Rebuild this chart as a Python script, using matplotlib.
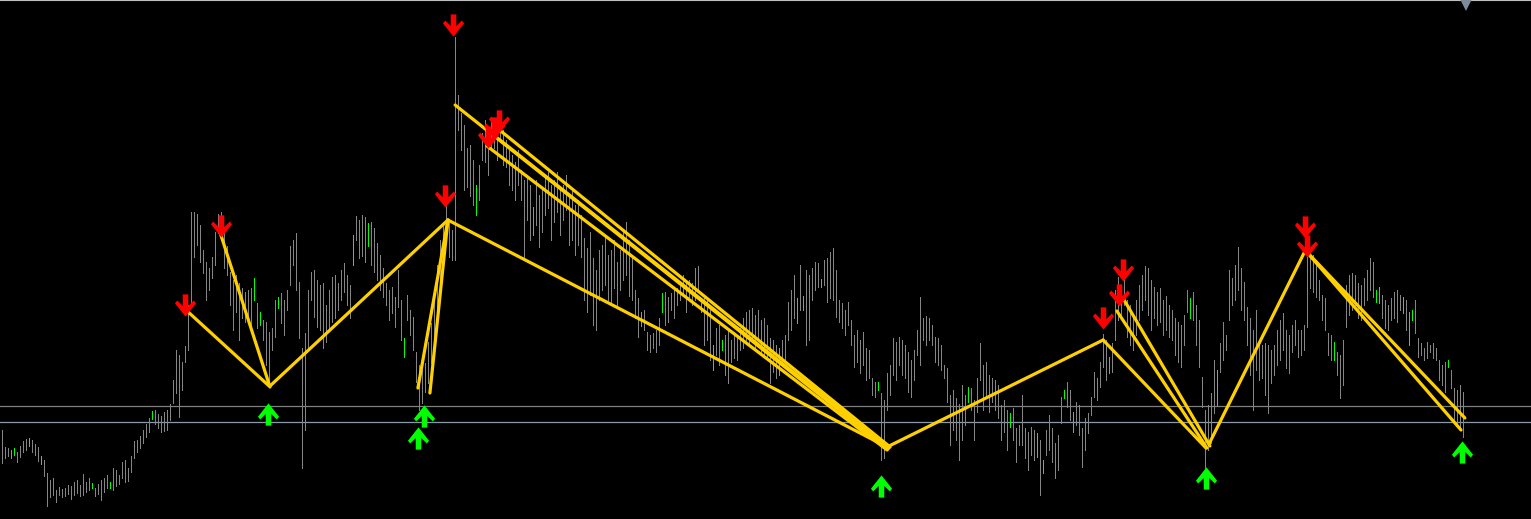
import numpy as np
import matplotlib
matplotlib.use("Agg")
import matplotlib.pyplot as plt
from matplotlib.path import Path

# bar highs / lows (price in points), one entry per bar
highs = [
    90, 73, 72, 70, 72, 68, 74, 79, 81, 82,
    80, 76, 73, 64, 60, 47, 40, 42, 30, 33,
    31, 32, 35, 34, 38, 40, 35, 46, 38, 42,
    37, 32, 36, 40, 42, 45, 38, 52, 50, 45,
    58, 60, 52, 64, 79, 80, 84, 90, 96, 102,
    109, 110, 106, 104, 108, 110, 116, 140, 170, 165,
    158, 174, 215, 308, 308, 306, 295, 270, 258, 252,
    263, 288, 306, 308, 292, 274, 248, 240, 245, 237,
    232, 228, 230, 232, 242, 217, 208, 200, 198, 188,
    192, 220, 223, 227, 220, 230, 274, 280, 287, 238,
    172, 187, 230, 248, 250, 240, 235, 237, 215, 230,
    243, 245, 237, 250, 257, 245, 235, 285, 304, 300,
    305, 303, 297, 298, 292, 277, 265, 252, 237, 230,
    233, 223, 250, 220, 182, 225, 210, 203, 168, 155,
    150, 157, 178, 197, 220, 255, 280, 298, 314, 300,
    290, 483, 425, 407, 395, 372, 375, 360, 335, 355,
    387, 400, 392, 399, 402, 398, 395, 390, 380, 370,
    365, 358, 370, 350, 340, 345, 335, 313, 340, 325,
    332, 342, 348, 335, 340, 348, 330, 335, 345, 325,
    330, 315, 320, 305, 282, 272, 288, 262, 250, 270,
    275, 282, 265, 270, 280, 258, 270, 288, 298, 280,
    265, 230, 222, 208, 210, 188, 185, 187, 190, 202,
    227, 228, 223, 227, 230, 232, 235, 245, 238, 240,
    237, 252, 254, 217, 222, 220, 210, 175, 192, 195,
    180, 185, 192, 180, 188, 185, 192, 202, 208, 210,
    212, 205, 210, 200, 202, 195, 182, 180, 175, 172,
    180, 185, 218, 230, 245, 222, 255, 224, 250, 245,
    252, 258, 257, 241, 260, 262, 268, 272, 250, 220,
    217, 210, 218, 200, 185, 190, 180, 188, 172, 170,
    142, 138, 138, 127, 120, 147, 155, 182, 178, 183,
    180, 175, 168, 160, 170, 190, 223, 202, 204, 202,
    195, 183, 182, 175, 155, 152, 125, 130, 122, 116,
    135, 125, 133, 132, 120, 142, 177, 155, 158, 145,
    142, 140, 135, 115, 120, 110, 107, 112, 92, 95,
    125, 92, 88, 93, 90, 87, 80, 60, 90, 105,
    92, 77, 85, 123, 130, 138, 130, 108, 118, 115,
    92, 102, 107, 123, 148, 142, 158, 186, 180, 163,
    177, 230, 243, 235, 244, 220, 215, 205, 220, 235,
    245, 254, 252, 240, 233, 228, 232, 220, 224, 215,
    210, 202, 198, 195, 205, 230, 222, 228, 215, 200,
    143, 110, 115, 127, 160, 150, 177, 198, 185, 250,
    242, 255, 273, 252, 238, 213, 202, 190, 210, 180,
    175, 177, 175, 170, 175, 190, 200, 207, 190, 185,
    195, 200, 190, 190, 195, 283, 268, 265, 258, 240,
    225, 222, 187, 185, 178, 168, 165, 180, 235, 245,
    247, 245, 237, 235, 242, 250, 262, 258, 230, 233,
    225, 220, 215, 222, 228, 230, 225, 223, 220, 208,
    210, 220, 182, 177, 172, 178, 175, 177, 172, 160,
    155, 158, 160, 150, 132, 130, 135, 128,
]
lows = [
    57, 62, 64, 62, 65, 58, 63, 68, 70, 74,
    68, 65, 59, 56, 44, 14, 23, 25, 18, 25,
    23, 24, 26, 21, 25, 27, 24, 25, 28, 30,
    32, 24, 26, 20, 28, 32, 32, 30, 34, 36,
    42, 38, 39, 48, 62, 68, 72, 77, 83, 88,
    101, 96, 92, 88, 89, 90, 100, 117, 127, 103,
    130, 158, 170, 215, 263, 275, 258, 247, 220, 230,
    242, 255, 287, 280, 252, 245, 215, 190, 208, 180,
    202, 198, 205, 195, 220, 192, 195, 180, 155, 136,
    170, 183, 212, 197, 185, 210, 235, 255, 230, 182,
    52, 90, 173, 220, 203, 193, 190, 172, 178, 190,
    198, 202, 210, 220, 228, 215, 202, 255, 280, 262,
    264, 258, 274, 255, 248, 240, 230, 223, 215, 200,
    207, 193, 213, 180, 163, 200, 185, 170, 138, 110,
    117, 128, 137, 157, 168, 200, 230, 252, 280, 263,
    260, 260, 390, 370, 330, 333, 324, 315, 305, 320,
    360, 358, 345, 370, 372, 360, 380, 355, 353, 335,
    330, 320, 335, 320, 263, 300, 280, 285, 295, 273,
    288, 305, 312, 280, 298, 308, 285, 300, 310, 275,
    280, 265, 275, 263, 220, 208, 225, 195, 190, 220,
    230, 235, 220, 215, 232, 213, 230, 240, 245, 224,
    220, 202, 183, 194, 190, 170, 168, 172, 168, 175,
    208, 195, 198, 210, 202, 215, 220, 224, 208, 220,
    215, 220, 228, 208, 175, 180, 160, 150, 165, 155,
    170, 145, 137, 158, 162, 160, 170, 172, 180, 175,
    182, 170, 180, 168, 165, 162, 137, 148, 142, 145,
    155, 160, 180, 190, 202, 197, 210, 210, 175, 180,
    220, 230, 233, 233, 235, 218, 222, 220, 203, 198,
    192, 185, 195, 175, 153, 158, 147, 155, 140, 142,
    125, 123, 130, 60, 62, 110, 125, 145, 140, 155,
    145, 142, 128, 123, 140, 165, 155, 180, 175, 180,
    175, 158, 155, 150, 142, 118, 75, 90, 80, 60,
    80, 95, 118, 110, 80, 108, 140, 110, 122, 108,
    118, 110, 102, 80, 88, 70, 93, 80, 58, 75,
    75, 62, 50, 65, 60, 63, 25, 47, 65, 70,
    58, 42, 50, 97, 122, 113, 100, 88, 95, 85,
    53, 70, 87, 105, 123, 120, 133, 153, 140, 147,
    148, 180, 200, 202, 215, 183, 175, 170, 185, 200,
    210, 220, 205, 190, 202, 195, 198, 185, 190, 183,
    180, 165, 158, 153, 175, 208, 202, 200, 175, 153,
    113, 52, 70, 77, 107, 115, 148, 160, 170, 200,
    215, 220, 230, 210, 200, 175, 145, 110, 150, 140,
    142, 125, 107, 137, 145, 155, 160, 170, 152, 147,
    168, 175, 163, 165, 170, 193, 232, 228, 223, 220,
    200, 190, 165, 160, 160, 145, 122, 135, 193, 205,
    210, 215, 202, 200, 215, 220, 230, 223, 218, 217,
    202, 192, 190, 200, 202, 198, 210, 207, 190, 175,
    200, 187, 163, 165, 160, 162, 168, 162, 160, 140,
    135, 128, 153, 132, 100, 95, 90, 83,
]
# bars drawn in green
green_bars = [3, 4, 9, 13, 30, 36, 50, 84, 86, 92, 117, 122, 134, 158, 177,
              213, 220, 233, 237, 240, 259, 265, 267, 273, 292, 322, 336, 345,
              347, 354, 357, 369, 396, 405, 444, 458, 459, 467, 469, 470, 482]

# zigzag segments: start bar, start price, end bar, end price
zz_x0 = [61.5, 72.8, 89.5, 138.8, 142.8, 148.8, 151.2, 161.8, 163.2, 165.2,
         295.2, 367.2, 371.8, 374.2, 402.5, 434.5, 434.5]
zz_p0 = [210, 288, 134, 132, 127, 300, 415, 374, 387, 392,
         73, 180, 209, 220, 76, 270, 270]
zz_x1 = [89.2, 89.5, 148.8, 148.8, 148.8, 295.2, 295.5, 295.2, 295.8, 296.2,
         367.2, 401.5, 401.8, 402.8, 434.5, 486.5, 487.8]
zz_p1 = [134, 133, 300, 300, 300, 73, 71, 70, 72, 73,
         180, 72, 72, 74, 269, 90, 102]

# signal arrows
sell_bars = [61.2, 73.2, 147.8, 150.5, 162.2, 164.2, 165.8, 367.2, 372.5, 373.8, 434.5, 435.2]
sell_price = [215, 294, 324, 495, 383, 392, 399, 202, 225, 250, 293, 274]
buy_bars = [88.8, 140.8, 138.8, 293.2, 401.5, 486.8]
buy_price = [106, 104, 82, 34, 42, 68]

# horizontal levels
level_upper = 114
level_lower = 98

fig = plt.figure(figsize=(15.31, 5.19), dpi=100, facecolor="black")
ax = fig.add_axes([0, 0, 1, 1])
ax.set_facecolor("black")

idx = np.arange(len(highs))
hi = np.array(highs)
lo = np.array(lows)
is_green = np.isin(idx, green_bars)

ax.axhline(level_upper, color="#7f7f7f", lw=0.9, zorder=1)
ax.axhline(level_lower, color="#8a9aab", lw=0.9, zorder=1)

ax.vlines(idx[~is_green], lo[~is_green], hi[~is_green], colors="#858585",
          linewidth=0.55, antialiased=False, zorder=2)
ax.vlines(idx[is_green], lo[is_green], hi[is_green], colors="#00ff00",
          linewidth=0.55, antialiased=False, zorder=3)

for x0, p0, x1, p1 in zip(zz_x0, zz_p0, zz_x1, zz_p1):
    ax.plot([x0, x1], [p0, p1], color="#ffd000", lw=2.3,
            solid_capstyle="round", zorder=4)

# arrow marker shapes (chevron head + shaft)
down_verts = [(-2.5, 10), (2.5, 10), (2.5, -0.5), (7.5, 4.5), (9.5, 2),
              (0, -10), (-9.5, 2), (-7.5, 4.5), (-2.5, -0.5), (-2.5, 10)]
codes = [Path.MOVETO] + [Path.LINETO] * (len(down_verts) - 2) + [Path.CLOSEPOLY]
down_arrow = Path(down_verts, codes)
up_arrow = Path([(x, -y) for x, y in down_verts], codes)

ax.plot(sell_bars, sell_price, linestyle="none", marker=down_arrow, ms=16,
        color="#ff0000", mew=0, zorder=5)
ax.plot(buy_bars, buy_price, linestyle="none", marker=up_arrow, ms=16,
        color="#00ff00", mew=0, zorder=5)

# chart shift marker at top right
ax.plot([1465.5 / 1531], [1 - 3 / 519], transform=ax.transAxes, marker="v",
        ms=11, color="#7d8b99", mew=0, clip_on=False, zorder=6)

ax.set_xlim(-0.5, 509.83)
ax.set_ylim(1, 520)
ax.set_xticks([])
ax.set_yticks([])
for side in ["left", "right", "bottom"]:
    ax.spines[side].set_visible(False)
ax.spines["top"].set_color("#bfbfbf")
ax.spines["top"].set_linewidth(0.8)

fig.savefig("out.png", dpi=100, facecolor="black")
